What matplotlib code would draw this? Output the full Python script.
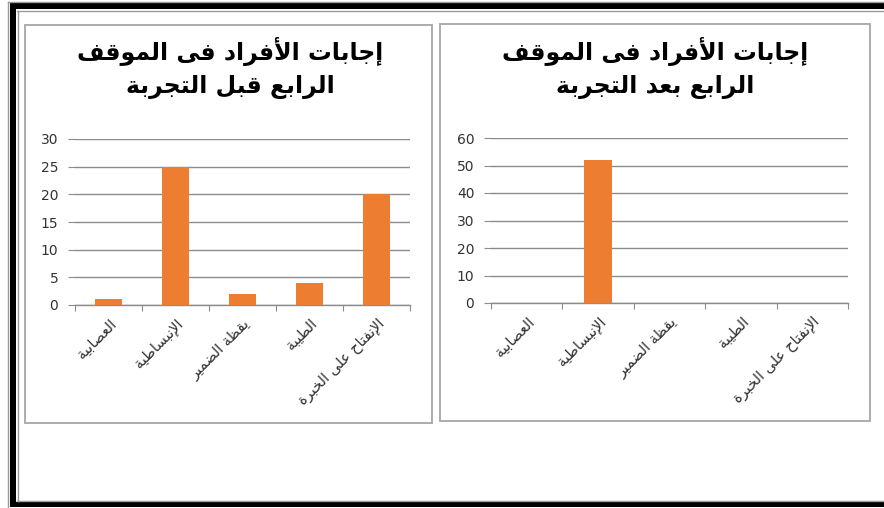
import matplotlib
matplotlib.use("Agg")
import matplotlib.pyplot as plt
from matplotlib.patches import Rectangle

categories = ["العصابية", "الإنبساطية", "يقظة الضمير", "الطيبة", "الإنفتاح على الخبرة"]
before_values = [1, 25, 2, 4, 20]
after_values = [0, 52, 0, 0, 0]
before_title = "إجابات الأفراد فى الموقف\nالرابع قبل التجربة"
after_title = "إجابات الأفراد فى الموقف\nالرابع بعد التجربة"
before_ticks = [0, 5, 10, 15, 20, 25, 30]
after_ticks = [0, 10, 20, 30, 40, 50, 60]

BAR = "#ED7D31"
GRID = "#8c8c8c"

# matplotlib has no Arabic shaping, so map letters to their
# presentation forms and reverse each line for display
_base = {
    "آ": 0xFE81, "أ": 0xFE83, "ؤ": 0xFE85, "إ": 0xFE87, "ئ": 0xFE89, "ا": 0xFE8D,
    "ب": 0xFE8F, "ة": 0xFE93, "ت": 0xFE95, "ث": 0xFE99, "ج": 0xFE9D, "ح": 0xFEA1,
    "خ": 0xFEA5, "د": 0xFEA9, "ذ": 0xFEAB, "ر": 0xFEAD, "ز": 0xFEAF, "س": 0xFEB1,
    "ش": 0xFEB5, "ص": 0xFEB9, "ض": 0xFEBD, "ط": 0xFEC1, "ظ": 0xFEC5, "ع": 0xFEC9,
    "غ": 0xFECD, "ف": 0xFED1, "ق": 0xFED5, "ك": 0xFED9, "ل": 0xFEDD, "م": 0xFEE1,
    "ن": 0xFEE5, "ه": 0xFEE9, "و": 0xFEED, "ى": 0xFEEF, "ي": 0xFEF1,
}
_right_only = set("آأؤإادذرزوىة")
_lam_alef = {"آ": 0xFEF5, "أ": 0xFEF7, "إ": 0xFEF9, "ا": 0xFEFB}


def _joins_next(c):
    return c in _base and c not in _right_only


def shape_line(text):
    out = []
    i = 0
    n = len(text)
    while i < n:
        c = text[i]
        if c not in _base:
            out.append(c)
            i += 1
            continue
        link_prev = i > 0 and _joins_next(text[i - 1])
        if c == "ل" and i + 1 < n and text[i + 1] in _lam_alef:
            out.append(chr(_lam_alef[text[i + 1]] + (1 if link_prev else 0)))
            i += 2
            continue
        link_next = _joins_next(c) and i + 1 < n and text[i + 1] in _base
        if link_prev and link_next:
            form = 3
        elif link_next:
            form = 2
        elif link_prev:
            form = 1
        else:
            form = 0
        out.append(chr(_base[c] + form))
        i += 1
    return "".join(reversed(out))


def shape(text):
    return "\n".join(shape_line(line) for line in text.split("\n"))


fig = plt.figure(figsize=(8.84, 5.08), dpi=100)
fig.patch.set_facecolor("white")

# background layer in pixel units for the frame and the two chart boxes
bg = fig.add_axes([0, 0, 1, 1], zorder=-10)
bg.set_xlim(0, 884)
bg.set_ylim(508, 0)
bg.axis("off")

# outer double frame (left, top, bottom)
bg.add_patch(Rectangle((10, 3), 874, 6, color="black", lw=0))
bg.add_patch(Rectangle((10, 502), 874, 5, color="black", lw=0))
bg.add_patch(Rectangle((10, 3), 6, 504, color="black", lw=0))
bg.plot([8, 884], [1.5, 1.5], color="#9a9a9a", lw=1)
bg.plot([17, 884], [10.5, 10.5], color="#9a9a9a", lw=1)
bg.plot([17, 884], [500.5, 500.5], color="#9a9a9a", lw=1)
bg.plot([8, 8], [1.5, 508], color="#9a9a9a", lw=1)
bg.plot([17.5, 17.5], [10.5, 500.5], color="#9a9a9a", lw=1)

# chart boxes
bg.add_patch(Rectangle((25, 25), 407, 398, facecolor="white", edgecolor="#a6a6a6", lw=1.3))
bg.add_patch(Rectangle((440, 24), 430, 397, facecolor="white", edgecolor="#a6a6a6", lw=1.3))

bg.text(230, 68, shape(before_title), ha="center", va="center", fontsize=17,
        fontweight="bold", linespacing=1.45, family="DejaVu Sans")
bg.text(655, 68, shape(after_title), ha="center", va="center", fontsize=17,
        fontweight="bold", linespacing=1.45, family="DejaVu Sans")


def draw_chart(rect, values, ticks):
    ax = fig.add_axes(rect)
    x = list(range(len(categories)))
    ax.bar(x, values, width=0.4, color=BAR, zorder=3)
    ax.set_xlim(-0.5, len(categories) - 0.5)
    ax.set_ylim(ticks[0], ticks[-1])
    ax.set_yticks(ticks)
    ax.yaxis.grid(True, color=GRID, lw=1)
    ax.set_axisbelow(True)
    for side in ("left", "top", "right"):
        ax.spines[side].set_visible(False)
    ax.spines["bottom"].set_color(GRID)
    ax.spines["bottom"].set_linewidth(1)
    ax.tick_params(axis="y", length=5, color=GRID, labelsize=10, labelcolor="#333333", pad=7)
    # tick marks at category boundaries, labels at category centres
    ax.set_xticks([i - 0.5 for i in range(len(categories) + 1)])
    ax.set_xticklabels([])
    ax.tick_params(axis="x", which="major", length=4, color=GRID, direction="out")
    ax.set_xticks(x, minor=True)
    ax.set_xticklabels([shape(c) for c in categories], minor=True, rotation=45,
                       ha="right", va="top", rotation_mode="anchor", fontsize=10.5,
                       color="#333333")
    ax.tick_params(axis="x", which="minor", length=0, pad=8)
    ax.set_facecolor("none")
    return ax


draw_chart([75 / 884, 203 / 508, 335 / 884, 166 / 508], before_values, before_ticks)
draw_chart([491 / 884, 205 / 508, 357 / 884, 165 / 508], after_values, after_ticks)

fig.savefig("out.png", dpi=100)
